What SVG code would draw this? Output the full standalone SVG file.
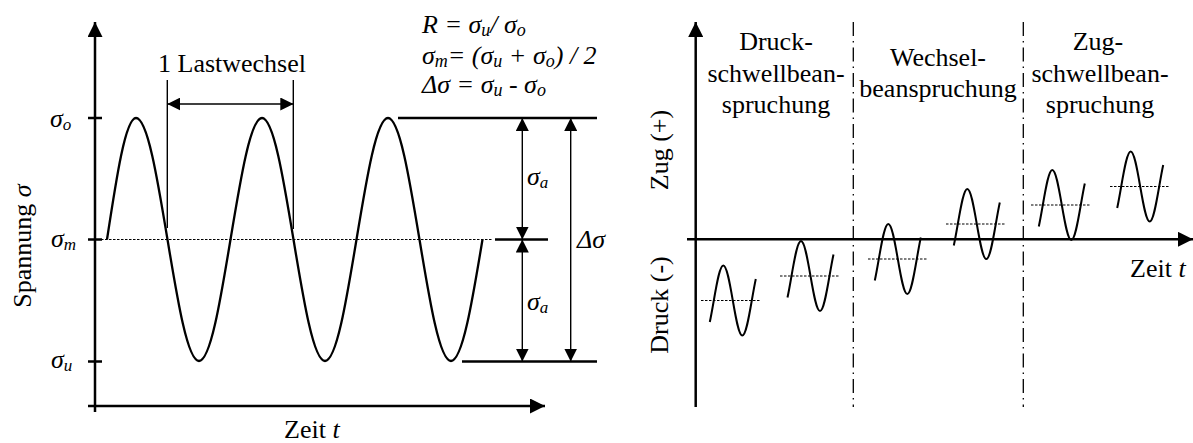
<svg xmlns="http://www.w3.org/2000/svg" width="1193" height="443" viewBox="0 0 1193 443" font-family="'Liberation Serif', 'Times New Roman', 'DejaVu Serif', serif">
<defs>
<style>
text{font-family:'Liberation Serif','Times New Roman','DejaVu Serif',serif;fill:#000;font-size:26px}
.i{font-style:italic}
.f{font-size:26px;font-style:italic}
.sub{font-size:17px}
.fs{font-size:18px}
.axis{stroke:#000;stroke-width:2.5;fill:none}
.wave{stroke:#000;stroke-width:2.3;fill:none;stroke-linejoin:round}
.ref{stroke:#000;stroke-width:2.3;fill:none}
.thin{stroke:#000;stroke-width:1.4;fill:none}
.dot{stroke:#000;stroke-width:1.2;stroke-dasharray:2.5 1.5;fill:none}
.dd{stroke:#000;stroke-width:1.3;stroke-dasharray:14 5 1.5 5;fill:none}
</style>
<marker id="ax" markerUnits="userSpaceOnUse" markerWidth="15" markerHeight="15" viewBox="0 0 15 15" refX="15" refY="7.5" orient="auto"><path d="M0,0 L15,7.5 L0,15 Z" fill="#000"/></marker>
<marker id="ah" markerUnits="userSpaceOnUse" markerWidth="13" markerHeight="13" viewBox="0 0 13 13" refX="13" refY="6.5" orient="auto-start-reverse"><path d="M0,0 L13,6.5 L0,13 Z" fill="#000"/></marker>
<path id="sw" fill="none" stroke="#000" stroke-width="2" d="M-13.5,21.5 C-12.167,15.415 -10.833,7.716 -9.5,0 c3.098,-17.93 6.062,-35 9.5,-35 c3.438,0 6.402,17.07 9.5,35 c3.098,17.93 6.062,35 9.5,35 c3.438,0 6.402,-17.07 9.5,-35 C29.833,-7.716 31.167,-15.415 32.5,-21.5"/>
</defs>

<g id="left-axes">
<line class="axis" x1="95" y1="412" x2="95" y2="22" marker-end="url(#ax)"/>
<line class="axis" x1="88" y1="406" x2="545" y2="406" marker-end="url(#ax)"/>
<line class="axis" x1="88" y1="118" x2="102" y2="118"/>
<line class="axis" x1="88" y1="239.5" x2="102" y2="239.5"/>
<line class="axis" x1="88" y1="361.5" x2="102" y2="361.5"/>
</g>

<g id="left-labels">
<text class="i" x="50" y="127">σ<tspan class="sub" dy="3">o</tspan></text>
<text class="i" x="51" y="247">σ<tspan class="sub" dy="3">m</tspan></text>
<text class="i" x="51" y="368">σ<tspan class="sub" dy="3">u</tspan></text>
<text transform="translate(31,246) rotate(-90)" text-anchor="middle">Spannung <tspan class="i">σ</tspan></text>
<text x="284" y="438">Zeit <tspan class="i">t</tspan></text>
<text x="158" y="72">1 Lastwechsel</text>
</g>

<g id="formulas">
<text class="f" x="422" y="33">R = σ<tspan class="fs" dy="3">u</tspan><tspan dy="-3">/ σ</tspan><tspan class="fs" dy="3">o</tspan></text>
<text class="f" x="422" y="64">σ<tspan class="fs" dy="3">m</tspan><tspan dy="-3">= (σ</tspan><tspan class="fs" dy="3">u</tspan><tspan dy="-3"> + σ</tspan><tspan class="fs" dy="3">o</tspan><tspan dy="-3">) / 2</tspan></text>
<text class="f" x="422" y="93">Δσ = σ<tspan class="fs" dy="3">u</tspan><tspan dy="-3"> - σ</tspan><tspan class="fs" dy="3">o</tspan></text>
</g>

<g id="left-wave">
<line class="dot" x1="101" y1="239.5" x2="492" y2="239.5"/>
<path class="wave" d="M107,239.5 c9.46,-62.24 18.5,-121.5 29,-121.5 c11.4,0 21.23,59.26 31.5,121.5 c10.27,62.24 20.1,121.5 31.5,121.5 c11.4,0 21.23,-59.26 31.5,-121.5 c10.27,-62.24 20.1,-121.5 31.5,-121.5 c11.4,0 21.23,59.26 31.5,121.5 c10.27,62.24 20.1,121.5 31.5,121.5 c11.4,0 21.23,-59.26 31.5,-121.5 c10.27,-62.24 20.1,-121.5 31.5,-121.5 c11.4,0 21.23,59.26 31.5,121.5 c10.27,62.24 20.1,121.5 31.5,121.5 c11.4,0 21.23,-59.26 31.5,-121.5"/>
</g>

<g id="dimensions">
<line class="ref" x1="398" y1="118" x2="597" y2="118"/>
<line class="ref" x1="495" y1="239.5" x2="548" y2="239.5"/>
<line class="ref" x1="462" y1="361.5" x2="597" y2="361.5"/>
<line class="thin" x1="522.3" y1="118" x2="522.3" y2="239.5" marker-start="url(#ah)" marker-end="url(#ah)"/>
<line class="thin" x1="522.3" y1="239.5" x2="522.3" y2="361.5" marker-start="url(#ah)" marker-end="url(#ah)"/>
<line class="thin" x1="570.7" y1="118" x2="570.7" y2="361.5" marker-start="url(#ah)" marker-end="url(#ah)"/>
<line class="thin" x1="167.3" y1="80" x2="167.3" y2="228"/>
<line class="thin" x1="293.3" y1="80" x2="293.3" y2="229"/>
<line class="thin" x1="167.3" y1="104" x2="293.3" y2="104" marker-start="url(#ah)" marker-end="url(#ah)"/>
<text class="i" x="527" y="185">σ<tspan class="sub" dy="3">a</tspan></text>
<text class="i" x="527" y="310">σ<tspan class="sub" dy="3">a</tspan></text>
<text class="i" x="577" y="248">Δσ</text>
</g>

<g id="right-axes">
<line class="axis" x1="695.7" y1="407" x2="695.7" y2="22" marker-end="url(#ax)"/>
<line class="axis" x1="687" y1="239.3" x2="1193" y2="239.3" marker-end="url(#ax)"/>
<line class="dd" x1="853.3" y1="22" x2="853.3" y2="407"/>
<line class="dd" x1="1023.3" y1="22" x2="1023.3" y2="407"/>
<text transform="translate(668,150) rotate(-90)" text-anchor="middle">Zug (+)</text>
<text transform="translate(668,305) rotate(-90)" text-anchor="middle">Druck (-)</text>
<text x="1130" y="277">Zeit <tspan class="i">t</tspan></text>
</g>

<g id="region-druck" text-anchor="middle">
<text x="776" y="50">Druck-</text>
<text x="776" y="82">schwellbean-</text>
<text x="776" y="113">spruchung</text>
<line class="dot" x1="701" y1="300.5" x2="761" y2="300.5"/>
<use href="#sw" transform="translate(723.3,300.5)"/>
<line class="dot" x1="780" y1="276" x2="840" y2="276"/>
<use href="#sw" transform="translate(801,276)"/>
</g>

<g id="region-wechsel" text-anchor="middle">
<text x="938" y="66">Wechsel-</text>
<text x="938" y="97">beanspruchung</text>
<line class="dot" x1="868" y1="259" x2="928" y2="259"/>
<use href="#sw" transform="translate(888.3,259)"/>
<line class="dot" x1="946" y1="224" x2="1006" y2="224"/>
<use href="#sw" transform="translate(967.3,224)"/>
</g>

<g id="region-zug" text-anchor="middle">
<text x="1098" y="50">Zug-</text>
<text x="1100" y="82">schwellbean-</text>
<text x="1100" y="113">spruchung</text>
<line class="dot" x1="1031" y1="205" x2="1091" y2="205"/>
<use href="#sw" transform="translate(1052.3,205)"/>
<line class="dot" x1="1110" y1="186.5" x2="1170" y2="186.5"/>
<use href="#sw" transform="translate(1130.7,186.5)"/>
</g>
</svg>
